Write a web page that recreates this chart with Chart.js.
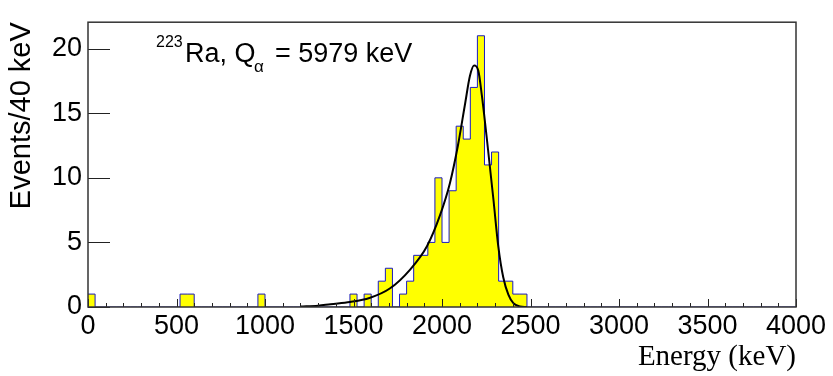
<!DOCTYPE html>
<html>
<head>
<meta charset="utf-8">
<script src="https://cdn.jsdelivr.net/npm/chart.js@4.4.1/dist/chart.umd.min.js"></script>
<style>
  body { margin: 0; background: #fff; }
  #wrap { width: 833px; height: 376px; }
</style>
</head>
<body>
<div id="wrap"><canvas id="spectrum"></canvas></div>
<script>
// 40 keV bins from 0 to 4000 keV (lower edges)
var binLow = [];
for (var i = 0; i < 100; i++) binLow.push(i * 40);

// events per bin
var counts = [
  1, 0, 0, 0, 0, 0, 0, 0, 0, 0,      // 0 - 400
  0, 0, 0, 1, 1, 0, 0, 0, 0, 0,      // 400 - 800
  0, 0, 0, 0, 1, 0, 0, 0, 0, 0,      // 800 - 1200
  0, 0, 0, 0, 0, 0, 0, 1, 0, 1,      // 1200 - 1600
  0, 2, 3, 0, 1, 2, 4, 4, 5, 10,     // 1600 - 2000
  5, 9, 14, 13, 17, 21, 11, 12, 2, 2, // 2000 - 2400
  1, 1, 0, 0, 0, 0, 0, 0, 0, 0,      // 2400 - 2800
  0, 0, 0, 0, 0, 0, 0, 0, 0, 0,
  0, 0, 0, 0, 0, 0, 0, 0, 0, 0,
  0, 0, 0, 0, 0, 0, 0, 0, 0, 0
];

// fitted curve
var fitEnergy = [1200, 1300, 1370, 1480, 1590, 1705, 1820, 1915, 1990, 2045, 2090, 2130, 2158, 2181, 2205, 2225, 2252, 2290, 2318, 2346, 2375, 2403, 2440, 2480];
var fitValue  = [0.03, 0.1, 0.22, 0.39, 0.7, 1.43, 2.9, 4.7, 7.15, 9.6, 12.5, 15.7, 17.9, 18.7, 18.3, 16.4, 13.2, 8.4, 4.7, 2.3, 0.95, 0.3, 0.05, 0];

var xTickValues = [0, 500, 1000, 1500, 2000, 2500, 3000, 3500, 4000];
var yTickValues = [0, 5, 10, 15, 20];

var histPoints = binLow.map(function(e, k){ return {x: e, y: counts[k]}; });
histPoints.push({x: 4000, y: counts[counts.length - 1]});
var fitPoints = fitEnergy.map(function(e, k){ return {x: e, y: fitValue[k]}; });

var sans = '"Liberation Sans", Arial, Helvetica, sans-serif';

var rootFrame = {
  id: 'rootFrame',
  afterDatasetsDraw: function(chart) {
    var ctx = chart.ctx, a = chart.chartArea, sx = chart.scales.x, sy = chart.scales.y;
    ctx.save();
    ctx.strokeStyle = '#222';
    ctx.lineWidth = 1;
    ctx.beginPath();
    yTickValues.forEach(function(v){
      var py = Math.round(sy.getPixelForValue(v)) + 0.5;
      ctx.moveTo(a.left, py); ctx.lineTo(a.left + 22, py);
    });
    for (var e = 0; e <= 4000; e += 100) {
      var px = Math.round(sx.getPixelForValue(e)) + 0.5;
      var len = (e % 500 === 0) ? 8 : 4;
      ctx.moveTo(px, a.bottom); ctx.lineTo(px, a.bottom - len);
    }
    ctx.stroke();
    ctx.lineWidth = 1.5;
    ctx.strokeStyle = '#333';
    ctx.strokeRect(a.left, a.top, a.right - a.left, a.bottom - a.top);
    ctx.restore();
  },
  afterDraw: function(chart) {
    var ctx = chart.ctx;
    ctx.save();
    ctx.fillStyle = '#000';
    ctx.textBaseline = 'alphabetic';
    ctx.font = '16px ' + sans;
    ctx.fillText('223', 156, 47);
    ctx.font = '27px ' + sans;
    ctx.fillText('Ra, Q', 185, 62);
    ctx.font = '17px ' + sans;
    ctx.fillText('\u03b1', 254, 72);
    ctx.font = '27px ' + sans;
    ctx.fillText('= 5979 keV', 275, 62);
    ctx.restore();
  }
};

new Chart(document.getElementById('spectrum'), {
  type: 'line',
  data: {
    datasets: [
      {
        label: 'fit',
        data: fitPoints,
        borderColor: '#000',
        borderWidth: 2,
        pointRadius: 0,
        cubicInterpolationMode: 'monotone',
        fill: false,
        order: 0
      },
      {
        label: 'events',
        data: histPoints,
        stepped: 'before',
        borderColor: '#1a1ac0',
        borderWidth: 1,
        backgroundColor: '#ffff00',
        pointRadius: 0,
        fill: 'origin',
        order: 1
      }
    ]
  },
  options: {
    responsive: true,
    maintainAspectRatio: false,
    animation: false,
    devicePixelRatio: 1,
    layout: { padding: { left: 0, right: 37, top: 7, bottom: 0 } },
    plugins: { legend: { display: false }, tooltip: { enabled: false } },
    scales: {
      x: {
        type: 'linear',
        min: 0, max: 4000,
        grid: { display: false, drawTicks: false },
        border: { display: false },
        afterBuildTicks: function(s){ s.ticks = xTickValues.map(function(v){ return {value: v}; }); },
        afterFit: function(s){ s.height = 69; },
        ticks: {
          color: '#000', font: { family: sans, size: 27 }, padding: 3, maxRotation: 0, autoSkip: false,
          callback: function(v){ return String(v); }
        },
        title: {
          display: true, text: 'Energy (keV)', align: 'end', color: '#000',
          font: { family: '"Liberation Serif", "Times New Roman", serif', size: 29 },
          padding: { top: 0, bottom: 1 }
        }
      },
      y: {
        min: 0, max: 22.05,
        grid: { display: false, drawTicks: false },
        border: { display: false },
        afterBuildTicks: function(s){ s.ticks = yTickValues.map(function(v){ return {value: v}; }); },
        afterFit: function(s){ s.width = 88; },
        ticks: { color: '#000', font: { family: sans, size: 27 }, padding: 6, callback: function(v){ return String(v); } },
        title: {
          display: true, text: 'Events/40 keV', align: 'end', color: '#000',
          font: { family: sans, size: 29 },
          padding: { top: 5, bottom: 0 }
        }
      }
    }
  },
  plugins: [rootFrame]
});
</script>
</body>
</html>
